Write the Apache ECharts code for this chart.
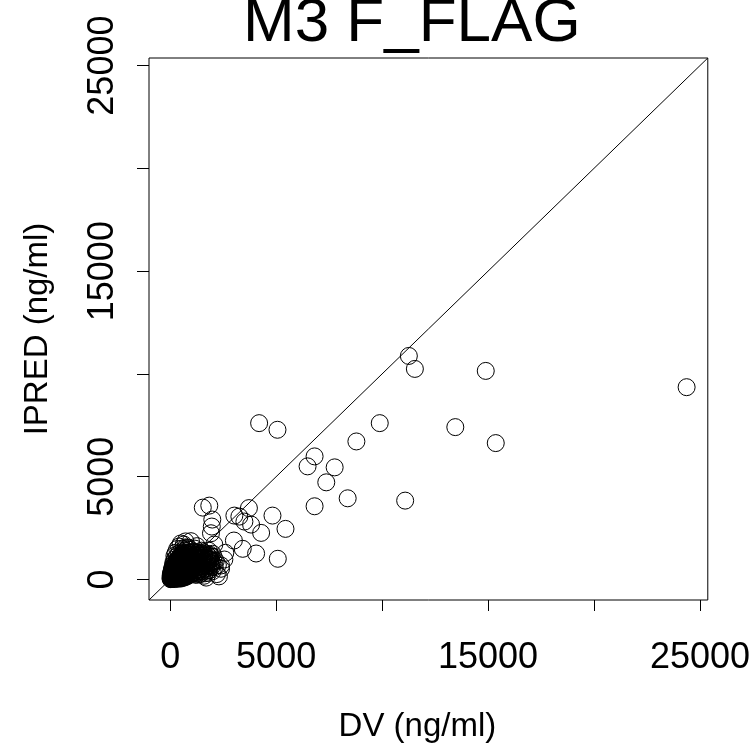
<!DOCTYPE html>
<html>
<head>
<meta charset="utf-8">
<script src="https://cdn.jsdelivr.net/npm/echarts@6/dist/echarts.min.js"></script>
<style>
  html, body { margin: 0; padding: 0; background: #fff; }
  #chart-container { width: 753px; height: 748px; }
</style>
</head>
<body>
<div id="chart-container"></div>
<script>
// axis setup (same range on both axes, R style 4% padding)
const axisMin = -1000;
const axisMax = 25370;
const tickValues = [0, 5000, 10000, 15000, 20000, 25000];
const labelValues = [0, 5000, 15000, 25000];

// [DV, IPRED] - the sparse high points
const highPoints = [
  [11263, 10874], [11547, 10243], [14892, 10146], [24371, 9354],
  [4197, 7605], [5063, 7282], [9890, 7605], [8787, 6714],
  [13455, 7411], [15364, 6634], [6814, 5987], [6483, 5502],
  [7761, 5453], [7366, 4725], [8376, 3948], [11089, 3835],
  [6814, 3560]
];

// middle range points
const midPoints = [
  [1538, 3495], [1845, 3592], [1987, 2913], [1963, 2573], [1925, 2248],
  [3029, 3107], [3265, 3058], [3715, 3471], [3502, 2816], [3818, 2670],
  [4291, 2265], [4827, 3107], [5441, 2460], [3006, 1893], [3423, 1490],
  [4054, 1262], [5078, 1005], [2602, 1296], [2399, 680], [980, 1862],
  [2556, 971], [2082, 1699], [1609, 1214]
];

// dense cluster near the origin
const clusterPoints = [
  [20, 15], [35, 60], [50, 30], [60, 110], [80, 50], [90, 140], [100, 80], [110, 200],
  [120, 35], [130, 160], [140, 260], [150, 95], [160, 210], [170, 320], [180, 120], [190, 60],
  [200, 270], [210, 180], [220, 390], [230, 140], [240, 330], [250, 220], [260, 90], [270, 450],
  [280, 300], [290, 170], [300, 380], [310, 240], [320, 520], [330, 130], [340, 410], [350, 290],
  [360, 200], [370, 470], [380, 350], [390, 560], [400, 250], [15, 90], [25, 180], [45, 240],
  [70, 300], [95, 350], [115, 420], [135, 500], [65, 20], [105, 25], [145, 40], [175, 70],
  [205, 100], [235, 60], [265, 150], [295, 110], [325, 200], [355, 140], [385, 90], [410, 170],
  [430, 320], [450, 230], [470, 400], [490, 130],
  [500, 600], [520, 340], [540, 480], [560, 720], [580, 260], [600, 550], [620, 880], [640, 420],
  [660, 650], [680, 310], [700, 780], [720, 520], [740, 980], [760, 390], [780, 690], [800, 560],
  [820, 1100], [840, 450], [860, 820], [880, 300], [900, 640], [920, 980], [940, 520], [960, 760],
  [980, 400], [1000, 880], [430, 700], [460, 880], [480, 1020], [510, 1150], [550, 1240], [590, 1080],
  [630, 1320], [670, 1180], [710, 1400], [750, 1250], [790, 1480], [450, 520], [530, 900], [610, 740],
  [690, 1020], [770, 860], [850, 1180], [930, 1300], [1010, 1120],
  [1050, 540], [1100, 720], [1150, 430], [1200, 880], [1250, 610], [1300, 1020], [1350, 500], [1400, 780],
  [1450, 380], [1500, 940], [1550, 660], [1600, 1150], [1650, 520], [1700, 820], [1750, 1060], [1800, 700],
  [1850, 450], [1900, 980], [1950, 600], [2000, 1250], [1080, 980], [1180, 1150], [1280, 1300], [1380, 1180],
  [1480, 1400], [1580, 1320], [1120, 360], [1320, 760], [1520, 560], [1720, 1250], [1820, 1400], [1920, 800],
  [2050, 1100], [2150, 900], [2250, 700], [1060, 1350], [1160, 1500], [1260, 1620], [950, 1450], [850, 1550],
  [150, 820], [200, 960], [250, 740], [300, 1100], [350, 880], [400, 1250], [260, 1300], [330, 1480],
  [420, 1600], [500, 1750], [180, 650], [230, 560], [280, 680], [370, 760], [560, 1500], [640, 1700],
  [720, 1850], [200, 1150], [120, 600], [80, 450],
  [1400, 250], [1600, 180], [1800, 320], [2000, 400], [2200, 260], [2400, 520], [2300, 150], [1700, 90],
  [1500, 420], [2100, 600],
  [40, 130], [70, 210], [30, 260], [110, 290], [160, 350], [60, 380], [200, 430], [130, 460], [250, 510], [90, 520],
  [180, 560], [300, 600], [230, 640], [350, 660], [140, 700], [270, 720], [400, 740], [320, 800], [450, 820], [380, 870],
  [520, 930], [410, 960], [560, 1010], [470, 1060], [620, 1100], [540, 1130], [680, 1190], [600, 1230], [740, 1270], [660, 1300],
  [440, 60], [520, 110], [470, 180], [560, 210], [610, 150], [530, 270], [650, 240], [700, 180], [590, 330], [720, 290],
  [780, 230], [640, 370], [760, 340], [830, 280], [690, 420], [810, 400], [880, 360], [740, 460], [870, 470], [930, 410],
  [790, 510], [910, 540], [980, 480], [840, 590], [960, 620], [1030, 560], [890, 680], [1010, 700], [1080, 640], [940, 730],
  [1060, 780], [1130, 720], [990, 810], [1110, 860], [1170, 800], [1040, 900], [1160, 940], [1220, 870], [1090, 1000], [1210, 1040],
  [1270, 960], [1140, 1080], [1260, 1120], [1320, 1050], [1190, 1200], [1310, 1230], [1370, 1140], [1240, 1290], [1360, 1320], [1420, 1220],
  [1440, 600], [1380, 650], [1480, 720], [1530, 800], [1460, 860], [1570, 900], [1620, 780], [1540, 1000], [1660, 980], [1610, 1080],
  [1700, 640], [1760, 760], [1680, 900], [1780, 880], [1840, 960], [1730, 1000], [1860, 1080], [1790, 1150], [1880, 1200], [1940, 1120],
  [1340, 420], [1420, 480], [1270, 360], [1560, 380], [1640, 300], [1720, 420], [1820, 560], [1900, 680], [1980, 780], [2060, 860],
  [250, 20], [330, 45], [410, 80], [480, 40], [560, 70], [640, 90], [720, 120], [800, 160], [870, 200], [950, 240],
  [1020, 300], [1090, 330], [1170, 270], [1230, 220], [1300, 300], [340, 340], [420, 430], [510, 500], [600, 480], [680, 560],
  [760, 620], [850, 720], [930, 850], [1010, 950], [1100, 1180], [1180, 1330], [580, 620], [660, 760], [740, 840], [820, 970],
  [300, 500], [360, 580], [240, 600], [180, 780], [280, 880], [360, 1000], [460, 1100], [560, 1180], [640, 1420], [730, 1560]
];

const fontFamily = "'Liberation Sans', Arial, sans-serif";
const chart = echarts.init(document.getElementById("chart-container"));

const allPoints = highPoints.concat(midPoints, clusterPoints);
const plainNumber = (v) => String(v);

const option = {
  animation: false,
  backgroundColor: "#fff",
  title: {
    text: "M3 F_FLAG",
    left: 238,
    top: -12,
    textStyle: { fontFamily: fontFamily, fontSize: 62, fontWeight: "normal", color: "#000" }
  },
  grid: {
    left: 149, right: 45, top: 58, bottom: 148,
    show: true, borderColor: "#000", borderWidth: 1, backgroundColor: "#fff"
  },
  xAxis: {
    type: "value",
    min: axisMin,
    max: axisMax,
    name: "DV (ng/ml)",
    nameLocation: "middle",
    nameGap: 110,
    nameTextStyle: { fontFamily: fontFamily, fontSize: 33, color: "#000", padding: [0, 22, 0, 0] },
    axisLine: { show: false, onZero: false },
    splitLine: { show: false },
    axisTick: { show: true, inside: false, length: 11, customValues: tickValues, lineStyle: { color: "#000" } },
    axisLabel: {
      customValues: labelValues, margin: 40, formatter: plainNumber,
      fontFamily: fontFamily, fontSize: 36, color: "#000"
    }
  },
  yAxis: {
    type: "value",
    min: axisMin,
    max: axisMax,
    name: "IPRED (ng/ml)",
    nameLocation: "middle",
    nameRotate: 90,
    nameGap: 95,
    nameTextStyle: { fontFamily: fontFamily, fontSize: 33, color: "#000" },
    axisLine: { show: false, onZero: false },
    splitLine: { show: false },
    axisTick: { show: true, inside: false, length: 12, customValues: tickValues, lineStyle: { color: "#000" } },
    axisLabel: {
      customValues: labelValues, margin: 28, rotate: 90, formatter: plainNumber,
      fontFamily: fontFamily, fontSize: 36, color: "#000"
    }
  },
  series: [
    {
      type: "line",
      data: [[axisMin, axisMin], [axisMax, axisMax]],
      symbol: "none",
      silent: true,
      lineStyle: { color: "#000", width: 1 }
    },
    {
      type: "scatter",
      data: allPoints,
      symbol: "circle",
      symbolSize: 17,
      silent: true,
      itemStyle: { color: "rgba(0,0,0,0)", borderColor: "#000", borderWidth: 1, opacity: 1 }
    }
  ]
};

chart.setOption(option);
</script>
</body>
</html>
